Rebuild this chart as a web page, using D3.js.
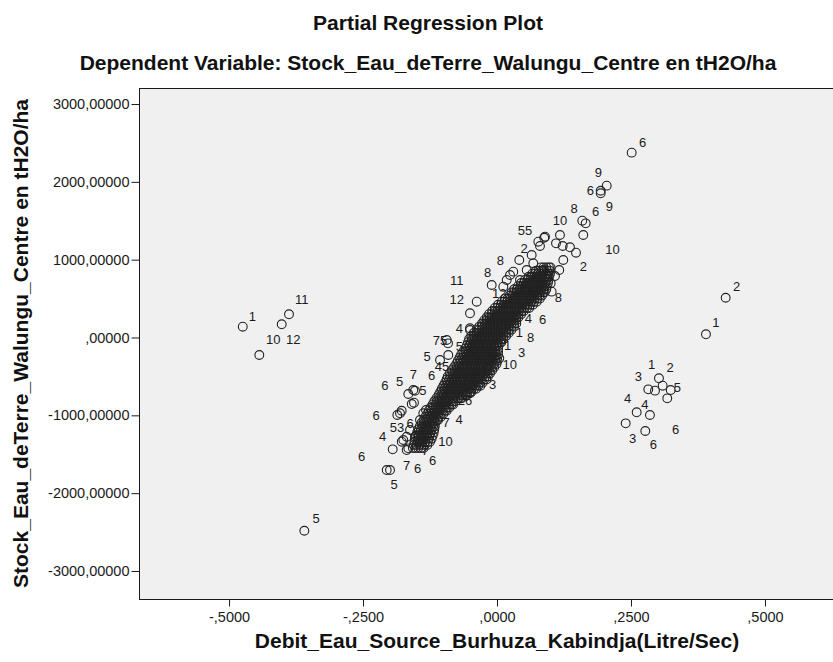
<!DOCTYPE html>
<html>
<head>
<meta charset="utf-8">
<script src="https://cdn.jsdelivr.net/npm/d3@7"></script>
<style>
  body { margin: 0; background: #ffffff; }
  svg text { font-family: "Liberation Sans", Arial, sans-serif; }
</style>
</head>
<body>
<svg id="chart" width="833" height="662"></svg>
<script>
// ---- axis ticks ----
const xTicks = [-0.5, -0.25, 0, 0.25, 0.5];
const xTickLabels = ["-,5000", "-,2500", ",0000", ",2500", ",5000"];
const yTicks = [3000, 2000, 1000, 0, -1000, -2000, -3000];
const yTickLabels = ["3000,00000", "2000,00000", "1000,00000", ",00000", "-1000,00000", "-2000,00000", "-3000,00000"];
const xDomain = [-0.668, 0.668];
const yDomain = [-3360, 3206];

// ---- dense central band: each row is [y residual, x residuals...] ----
const coreRows = [
  [900, 0.082,0.087,0.092,0.097,0.100],
  [860, 0.073,0.078,0.083,0.088,0.093,0.098],
  [820, 0.066,0.071,0.076,0.081,0.086,0.091,0.096,0.099],
  [780, 0.059,0.064,0.069,0.074,0.079,0.084,0.089,0.094,0.097],
  [740, 0.052,0.057,0.062,0.067,0.072,0.077,0.082,0.087,0.092,0.096],
  [700, 0.045,0.050,0.055,0.060,0.065,0.070,0.075,0.080,0.085,0.090,0.095],
  [660, 0.039,0.044,0.049,0.054,0.059,0.064,0.069,0.074,0.079,0.084,0.089,0.093],
  [620, 0.032,0.037,0.042,0.047,0.052,0.057,0.062,0.067,0.072,0.077,0.082,0.087,0.092],
  [580, 0.027,0.032,0.037,0.042,0.047,0.052,0.057,0.062,0.067,0.072,0.077,0.082,0.087,0.089],
  [540, 0.024,0.029,0.034,0.039,0.044,0.049,0.054,0.059,0.064,0.069,0.074,0.079,0.084],
  [500, 0.015,0.020,0.025,0.030,0.035,0.040,0.045,0.050,0.055,0.060,0.065,0.070,0.075,0.080],
  [460, 0.009,0.014,0.019,0.024,0.029,0.034,0.039,0.044,0.049,0.054,0.059,0.064,0.069,0.074],
  [420, 0.002,0.007,0.012,0.017,0.022,0.027,0.032,0.037,0.042,0.047,0.052,0.057,0.062,0.067],
  [380, -0.004,0.001,0.006,0.011,0.016,0.021,0.026,0.031,0.036,0.041,0.046,0.051,0.056,0.060],
  [340, -0.009,-0.004,0.001,0.006,0.011,0.016,0.021,0.026,0.031,0.036,0.041,0.046,0.050],
  [300, -0.015,-0.010,-0.005,0.000,0.005,0.010,0.015,0.020,0.025,0.030,0.035,0.040,0.045],
  [260, -0.019,-0.014,-0.009,-0.004,0.001,0.006,0.011,0.016,0.021,0.026,0.031,0.036,0.040],
  [220, -0.024,-0.019,-0.014,-0.009,-0.004,0.001,0.006,0.011,0.016,0.021,0.026,0.031,0.036],
  [180, -0.028,-0.023,-0.018,-0.013,-0.008,-0.003,0.002,0.007,0.012,0.017,0.022,0.027,0.032,0.036],
  [140, -0.033,-0.028,-0.023,-0.018,-0.013,-0.008,-0.003,0.002,0.007,0.012,0.017,0.022,0.027,0.032],
  [100, -0.038,-0.033,-0.028,-0.023,-0.018,-0.013,-0.008,-0.003,0.002,0.007,0.012,0.017,0.022,0.027],
  [60, -0.043,-0.038,-0.033,-0.028,-0.023,-0.018,-0.013,-0.008,-0.003,0.002,0.007,0.012,0.017,0.022],
  [20, -0.048,-0.043,-0.038,-0.033,-0.028,-0.023,-0.018,-0.013,-0.008,-0.003,0.002,0.007,0.012,0.017],
  [-20, -0.052,-0.047,-0.042,-0.037,-0.032,-0.027,-0.022,-0.017,-0.012,-0.007,-0.002,0.003,0.008,0.012],
  [-60, -0.054,-0.049,-0.044,-0.039,-0.034,-0.029,-0.024,-0.019,-0.014,-0.009,-0.004,0.001,0.006,0.008],
  [-100, -0.056,-0.051,-0.046,-0.041,-0.036,-0.031,-0.026,-0.021,-0.016,-0.011,-0.006,-0.001,0.003],
  [-140, -0.059,-0.054,-0.049,-0.044,-0.039,-0.034,-0.029,-0.024,-0.019,-0.014,-0.009,-0.004,0.002],
  [-180, -0.063,-0.058,-0.053,-0.048,-0.043,-0.038,-0.033,-0.028,-0.023,-0.018,-0.013,-0.008,-0.003,0.002],
  [-220, -0.067,-0.062,-0.057,-0.052,-0.047,-0.042,-0.037,-0.032,-0.027,-0.022,-0.017,-0.012,-0.007,-0.002,0.002],
  [-260, -0.070,-0.065,-0.060,-0.055,-0.050,-0.045,-0.040,-0.035,-0.030,-0.025,-0.020,-0.015,-0.010,-0.005,0.000],
  [-300, -0.073,-0.068,-0.063,-0.058,-0.053,-0.048,-0.043,-0.038,-0.033,-0.028,-0.023,-0.018,-0.013,-0.008,-0.003,0.001],
  [-340, -0.076,-0.071,-0.066,-0.061,-0.056,-0.051,-0.046,-0.041,-0.036,-0.031,-0.026,-0.021,-0.016,-0.011,-0.006,-0.001],
  [-380, -0.080,-0.075,-0.070,-0.065,-0.060,-0.055,-0.050,-0.045,-0.040,-0.035,-0.030,-0.025,-0.020,-0.015,-0.010,-0.005],
  [-420, -0.084,-0.079,-0.074,-0.069,-0.064,-0.059,-0.054,-0.049,-0.044,-0.039,-0.034,-0.029,-0.024,-0.019,-0.014,-0.009],
  [-460, -0.088,-0.083,-0.078,-0.073,-0.068,-0.063,-0.058,-0.053,-0.048,-0.043,-0.038,-0.033,-0.028,-0.023,-0.018,-0.013],
  [-500, -0.092,-0.087,-0.082,-0.077,-0.072,-0.067,-0.062,-0.057,-0.052,-0.047,-0.042,-0.037,-0.032,-0.027,-0.022,-0.017],
  [-540, -0.094,-0.089,-0.084,-0.079,-0.074,-0.069,-0.064,-0.059,-0.054,-0.049,-0.044,-0.039,-0.034,-0.029,-0.024,-0.020],
  [-580, -0.097,-0.092,-0.087,-0.082,-0.077,-0.072,-0.067,-0.062,-0.057,-0.052,-0.047,-0.042,-0.037,-0.032,-0.027],
  [-620, -0.100,-0.095,-0.090,-0.085,-0.080,-0.075,-0.070,-0.065,-0.060,-0.055,-0.050,-0.045,-0.040,-0.035,-0.031],
  [-660, -0.103,-0.098,-0.093,-0.088,-0.083,-0.078,-0.073,-0.068,-0.063,-0.058,-0.053,-0.048,-0.043,-0.039],
  [-700, -0.106,-0.101,-0.096,-0.091,-0.086,-0.081,-0.076,-0.071,-0.066,-0.061,-0.056,-0.051,-0.048],
  [-740, -0.109,-0.104,-0.099,-0.094,-0.089,-0.084,-0.079,-0.074,-0.069,-0.064,-0.059,-0.056],
  [-780, -0.113,-0.108,-0.103,-0.098,-0.093,-0.088,-0.083,-0.078,-0.073,-0.068,-0.066],
  [-820, -0.117,-0.112,-0.107,-0.102,-0.097,-0.092,-0.087,-0.082,-0.077],
  [-860, -0.120,-0.115,-0.110,-0.105,-0.100,-0.095,-0.090,-0.085,-0.082],
  [-900, -0.124,-0.119,-0.114,-0.109,-0.104,-0.099,-0.094,-0.089],
  [-940, -0.127,-0.122,-0.117,-0.112,-0.107,-0.102,-0.097,-0.094],
  [-980, -0.130,-0.125,-0.120,-0.115,-0.110,-0.105,-0.100],
  [-1020, -0.134,-0.129,-0.124,-0.119,-0.114,-0.109,-0.105],
  [-1060, -0.137,-0.132,-0.127,-0.122,-0.117,-0.112,-0.110],
  [-1100, -0.141,-0.136,-0.131,-0.126,-0.121,-0.116],
  [-1140, -0.144,-0.139,-0.134,-0.129,-0.124,-0.119,-0.116],
  [-1180, -0.147,-0.142,-0.137,-0.132,-0.127,-0.122,-0.117],
  [-1220, -0.149,-0.144,-0.139,-0.134,-0.129,-0.124,-0.118],
  [-1260, -0.151,-0.146,-0.141,-0.136,-0.131,-0.126,-0.120],
  [-1300, -0.153,-0.148,-0.143,-0.138,-0.133,-0.128,-0.122],
  [-1340, -0.154,-0.149,-0.144,-0.139,-0.134,-0.129,-0.125],
  [-1380, -0.155,-0.150,-0.145,-0.140,-0.135,-0.130],
  [-1420, -0.157,-0.152,-0.147,-0.142,-0.137]
];

// ---- residual pairs [x, y]: scattered cases around the band ----
const fringePoints = [
  [0.2513,2375],[0.2047,1951],[0.1935,1886],[0.1935,1853],
  [0.1591,1501],[0.1655,1467],[0.1610,1317],
  [0.0882,1282],[0.0771,1231],[0.0802,1176],[0.0896,1295],[0.1175,1317],[0.1101,1210],
  [0.1226,1176],[0.1362,1159],[0.1474,1090],[0.1237,996],[0.1162,867],[0.1002,696],
  [0.0416,996],[0.0647,1060],[0.0677,953],[0.0554,867],[0.0304,846],[0.0243,803],
  [0.0864,867],[0.1082,790],[0.0741,739],[0.1020,589],[0.0181,739],
  [0.0118,653],[0.0429,739],[0.0554,653],
  [-0.0099,675],[-0.0379,460],[-0.0504,311],[-0.0504,118],[-0.0504,96],
  [-0.0938,-32],[-0.0914,-75],[-0.1063,-289],[-0.0909,-225],
  [0.0043,-267],[-0.0192,-375],[-0.0410,-524],[-0.0181,-409],[-0.0349,-511],[-0.0504,-717],
  [-0.1655,-726],[-0.1562,-675],[-0.1530,-684],[-0.1591,-855],[-0.1549,-838],
  [-0.1810,-974],[-0.1860,-996],[-0.1778,-941],[-0.1325,-932],[-0.1375,-974],
  [-0.1437,-1060],[-0.1623,-1189],[-0.1312,-1189],[-0.1530,-1275],[-0.1685,-1275],
  [-0.1748,-1317],[-0.1778,-1339],[-0.1946,-1437],[-0.1685,-1446],[-0.1655,-1424],
  [-0.2058,-1703],[-0.1996,-1703]
];

// ---- residual pairs [x, y]: isolated cases far from the band ----
const outlierPoints = [
  [-0.4744,139],[-0.3881,298],[-0.4017,170],[-0.4435,-225],
  [-0.3595,-2483],
  [0.4267,511],[0.3899,41],
  [0.3022,-524],[0.3091,-619],[0.2823,-666],[0.2948,-683],[0.3241,-675],
  [0.3177,-782],[0.2606,-961],[0.2854,-996],[0.2401,-1103],[0.2767,-1201]
];

// ---- case labels [x, y, text] ----
const caseLabels = [
  [-0.4565,276,"1"],[-0.3644,482,"11"],[-0.4173,-32,"10"],[-0.3800,-32,"12"],[-0.3377,-2323,"5"],
  [0.4472,653,"2"],[0.4086,190,"1"],
  [0.2886,-344,"1"],[0.3228,-388,"2"],[0.2636,-495,"3"],[0.3364,-645,"5"],[0.2438,-781,"4"],
  [0.2761,-855,"4"],[0.2532,-1295,"3"],[0.2916,-1381,"6"],[0.3334,-1176,"6"],
  [0.2718,2508,"6"],[0.1890,2118,"9"],[0.1741,1895,"6"],[0.2095,1677,"9"],[0.1841,1613,"6"],
  [0.1437,1660,"8"],[0.1175,1503,"10"],[0.2155,1133,"10"],[0.0522,1381,"55"],[0.0504,1146,"2"],
  [0.1610,910,"2"],[0.0065,989,"8"],[-0.0177,829,"8"],[0.0043,568,"12"],[0.1144,514,"8"],
  [-0.0752,732,"11"],[-0.0752,486,"12"],[-0.0703,118,"4"],[0.0584,240,"4"],[0.0853,225,"6"],
  [0.0416,62,"1"],[0.0629,3,"8"],[0.0196,-109,"1"],[0.0461,-195,"3"],[0.0237,-353,"10"],
  [-0.0080,-604,"3"],[-0.0597,-803,"26"],[-0.1063,-39,"75"],[-0.0703,-116,"5"],[-0.1306,-238,"5"],
  [-0.1026,-373,"45"],[-0.1222,-482,"6"],[-0.1562,-475,"7"],[-0.1819,-559,"5"],[-0.2090,-623,"6"],
  [-0.1381,-675,"5"],[-0.2257,-996,"6"],[-0.1866,-1150,"53"],[-0.1623,-1103,"6"],[-0.2132,-1266,"4"],
  [-0.2524,-1529,"6"],[-0.0951,-1092,"7"],[-0.0709,-1054,"4"],[-0.0961,-1336,"10"],[-0.1343,-1452,"7"],
  [-0.1200,-1574,"6"],[-0.1685,-1651,"7"],[-0.1483,-1681,"6"],[-0.1922,-1886,"5"]
];

const titleText = "Partial Regression Plot";
const subtitleText = "Dependent Variable: Stock_Eau_deTerre_Walungu_Centre en tH2O/ha";
const xTitle = "Debit_Eau_Source_Burhuza_Kabindja(Litre/Sec)";
const yTitle = "Stock_Eau_deTerre_Walungu_Centre en tH2O/ha";

// ---- layout ----
const plot = { left: 139, right: 855, top: 88, bottom: 599 };
const titleFont = "21px";

const svg = d3.select("#chart");
const x = d3.scaleLinear().domain(xDomain).range([plot.left, plot.right]);
const y = d3.scaleLinear().domain(yDomain).range([plot.bottom, plot.top]);

// plot background and frame
svg.append("rect")
  .attr("x", plot.left + 0.5).attr("y", plot.top + 0.5)
  .attr("width", plot.right - plot.left).attr("height", plot.bottom - plot.top)
  .attr("fill", "#f0f0f0").attr("stroke", "#1a1a1a").attr("stroke-width", 1);

// axes
const xAxis = d3.axisBottom(x).tickValues(xTicks)
  .tickFormat((d, i) => xTickLabels[i]).tickSize(7).tickPadding(5);
const yAxis = d3.axisLeft(y).tickValues(yTicks)
  .tickFormat((d, i) => yTickLabels[i]).tickSize(8).tickPadding(2);

const gx = svg.append("g").attr("transform", `translate(0,${plot.bottom + 0.5})`).call(xAxis);
const gy = svg.append("g").attr("transform", `translate(${plot.left + 0.5},0)`).call(yAxis);
[gx, gy].forEach(g => {
  g.select(".domain").remove();
  g.selectAll(".tick line").attr("stroke", "#1a1a1a");
  g.selectAll(".tick text").attr("fill", "#1a1a1a")
    .style("font-family", '"Liberation Sans", Arial, sans-serif').style("font-size", "14.5px");
});

// points: flatten the band rows, then add the scattered and isolated cases
const bandPoints = coreRows.flatMap(r => r.slice(1).map(v => [v, r[0]]));
const pts = svg.append("g").attr("fill", "none").attr("stroke", "#222").attr("stroke-width", 1.1);
[bandPoints, fringePoints, outlierPoints].forEach(arr => {
  pts.selectAll(null).data(arr).enter().append("circle")
    .attr("cx", d => x(d[0])).attr("cy", d => y(d[1])).attr("r", 4.4);
});

// case labels
svg.append("g").selectAll("text").data(caseLabels).enter().append("text")
  .attr("x", d => x(d[0])).attr("y", d => y(d[1]))
  .attr("text-anchor", "middle").attr("dominant-baseline", "central")
  .attr("fill", "#1a1a1a").style("font-size", "13px")
  .text(d => d[2]);

// titles
function boldText(sel) {
  return sel.attr("text-anchor", "middle").attr("dominant-baseline", "central")
    .style("font-size", titleFont).style("font-weight", "bold").attr("fill", "#111");
}
boldText(svg.append("text").attr("x", 428).attr("y", 22)).text(titleText);
boldText(svg.append("text").attr("x", 428).attr("y", 62)).text(subtitleText);
boldText(svg.append("text").attr("x", (plot.left + plot.right) / 2).attr("y", 640)).text(xTitle);
boldText(svg.append("text")
  .attr("transform", `translate(20,${(plot.top + plot.bottom) / 2}) rotate(-90)`)).text(yTitle);
</script>
</body>
</html>
